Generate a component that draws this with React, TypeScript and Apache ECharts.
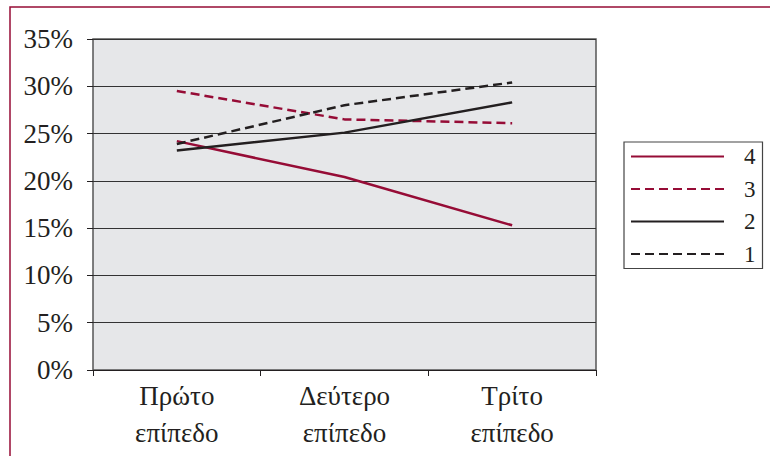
import React, { useEffect, useRef } from "react";
import * as echarts from "echarts";

const categories = ["Πρώτο\nεπίπεδο", "Δεύτερο\nεπίπεδο", "Τρίτο\nεπίπεδο"];
const series4 = [24.2, 20.4, 15.3];
const series3 = [29.5, 26.5, 26.1];
const series2 = [23.2, 25.1, 28.3];
const series1 = [23.9, 28.0, 30.4];
const legendNames = ["4", "3", "2", "1"];

const RED = "#960c36";
const DARK = "#231f20";
const FONT = "'Liberation Serif', 'DejaVu Serif', serif";

export default function App() {
  const ref = useRef<HTMLDivElement>(null);
  useEffect(() => {
    if (!ref.current) return;
    const chart = echarts.init(ref.current, null, { renderer: "svg" });
    const mk = (name: string, data: number[], color: string, dashed: boolean) => ({
      name,
      type: "line",
      data,
      symbol: "none",
      lineStyle: { color, width: 2.5, type: dashed ? [9, 5] : "solid" },
      itemStyle: { color },
    });
    chart.setOption({
      animation: false,
      backgroundColor: "#ffffff",
      graphic: [
        {
          type: "rect",
          shape: { x: 10, y: 7, width: 800, height: 500 },
          style: { fill: "none", stroke: RED, lineWidth: 1.5 },
          silent: true,
        },
      ],
      grid: {
        left: 93,
        top: 39,
        right: 174,
        bottom: 86,
        show: true,
        backgroundColor: "#e6e7e9",
        borderColor: "#555",
        borderWidth: 1.5,
      },
      legend: {
        data: legendNames,
        orient: "vertical",
        left: 624,
        top: 142,
        itemWidth: 93,
        itemHeight: 14,
        itemGap: 9.5,
        padding: [3, 7, 3, 6],
        borderColor: "#444",
        borderWidth: 1.2,
        itemStyle: { opacity: 0, borderWidth: 0 },
        textStyle: {
          fontFamily: FONT,
          fontSize: 23,
          color: DARK,
          padding: [0, 0, 0, 15],
        },
      },
      xAxis: {
        type: "category",
        data: categories,
        boundaryGap: true,
        axisLine: { show: true, lineStyle: { color: DARK, width: 1 } },
        axisTick: { show: true, length: 6, lineStyle: { color: DARK } },
        axisLabel: {
          fontFamily: FONT,
          fontSize: 27,
          color: DARK,
          lineHeight: 37,
          margin: 7,
        },
        splitLine: { show: false },
      },
      yAxis: {
        type: "value",
        min: 0,
        max: 35,
        interval: 5,
        axisLine: { show: false },
        axisTick: { show: true, length: 6, lineStyle: { color: DARK } },
        axisLabel: {
          formatter: "{value}%",
          fontFamily: FONT,
          fontSize: 27,
          color: DARK,
          margin: 20,
        },
        splitLine: { show: true, lineStyle: { color: "#333", width: 1 } },
      },
      series: [
        mk("4", series4, RED, false),
        mk("3", series3, RED, true),
        mk("2", series2, DARK, false),
        mk("1", series1, DARK, true),
      ],
    });
    return () => chart.dispose();
  }, []);
  return (
    <div
      ref={ref}
      style={{ position: "fixed", left: 0, top: 0, width: 770, height: 456 }}
    />
  );
}
